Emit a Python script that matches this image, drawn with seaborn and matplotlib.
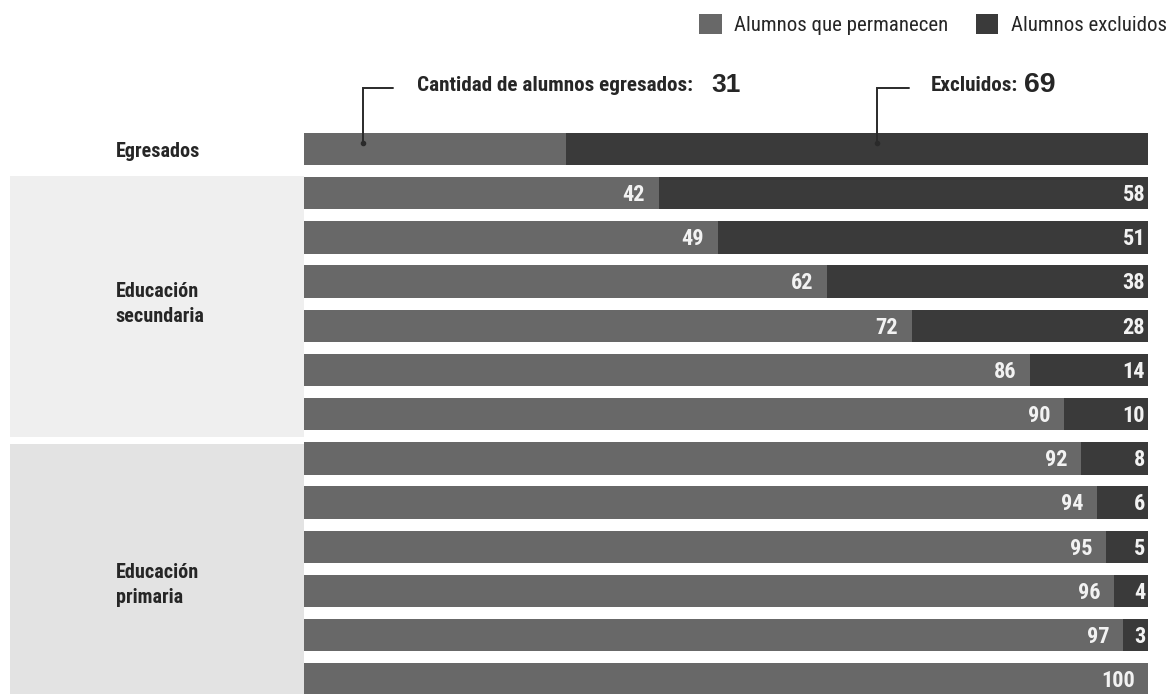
import matplotlib
matplotlib.use("Agg")
import matplotlib.pyplot as plt
from matplotlib.patches import Patch, Rectangle
from matplotlib import font_manager
import seaborn as sns
import pandas as pd

# ---------------- data ----------------
rows = ["Egresados", "S1", "S2", "S3", "S4", "S5", "S6",
        "P1", "P2", "P3", "P4", "P5", "P6"]
permanecen = [31, 42, 49, 62, 72, 86, 90, 92, 94, 95, 96, 97, 100]
excluidos = [69, 58, 51, 38, 28, 14, 10, 8, 6, 5, 4, 3, 0]
group_labels = ["Egresados", "Educación\nsecundaria", "Educación\nprimaria"]
legend_labels = ["Alumnos que permanecen", "Alumnos excluidos"]
egresados_text = "Cantidad de alumnos egresados:"
egresados_value = 31
excluidos_text = "Excluidos:"
excluidos_value = 69

# ---------------- style ----------------
sns.set_theme(style="white")

# pick a condensed face if one is installed
stretch_ok = {"condensed", "semi-condensed", "extra-condensed", "ultra-condensed"}
fam, stretch = None, "normal"
entries = font_manager.fontManager.ttflist
for name in ["Liberation Sans Narrow", "Roboto Condensed", "Open Sans Condensed",
             "Noto Sans Condensed", "DejaVu Sans Condensed"]:
    if any(f.name == name for f in entries):
        fam = name
        break
if fam is None:
    for name in ["Noto Sans", "Open Sans", "DejaVu Sans", "Roboto", "Inter"]:
        if any(f.name == name and str(f.stretch) in stretch_ok and f.weight in (700, "bold")
               for f in entries):
            fam, stretch = name, "condensed"
            break
if fam is None:
    fam = "Roboto" if any(f.name == "Roboto" for f in entries) else "DejaVu Sans"
plt.rcParams["font.family"] = [fam, "DejaVu Sans"]
plt.rcParams["font.stretch"] = stretch

C_PERM = "#686868"
C_EXCL = "#3a3a3a"
C_SEC = "#efefef"
C_PRI = "#e3e3e3"
C_TXT = "#262626"

df = pd.DataFrame({"row": rows, "perm": permanecen, "excl": excluidos})
df["total"] = df["perm"] + df["excl"]

fig = plt.figure(figsize=(11.72, 6.94), dpi=100)
ax = fig.add_axes([0, 0, 1, 1])

# measure font scale so that "Egresados" matches reference width (~87 px)
probe = fig.text(0, 0, group_labels[0], fontsize=14.5, fontweight="bold")
fig.canvas.draw()
w = probe.get_window_extent(fig.canvas.get_renderer()).width
probe.remove()
k = min(1.0, 87.0 / w) if w > 0 else 1.0
FS_LAB = 14.5 * k
FS_VAL = 16.0 * k
FS_ANN = 15.2 * k
FS_LEG = 15.0 * k

sns.barplot(data=df, x="total", y="row", orient="h", color=C_EXCL,
            width=0.73, linewidth=0, saturation=1, ax=ax, zorder=3)
sns.barplot(data=df, x="perm", y="row", orient="h", color=C_PERM,
            width=0.73, linewidth=0, saturation=1, ax=ax, zorder=4)

# pixel-calibrated view
ax.set_xlim(-36.02, 102.84)
ax.set_ylim(12.33, -3.371)
ax.axis("off")

# background bands for groups
ax.add_patch(Rectangle((-34.83, 0.61), 34.83, 6.52 - 0.61, color=C_SEC, zorder=1, lw=0))
ax.add_patch(Rectangle((-34.83, 6.67), 34.83, 6.0, color=C_PRI, zorder=1, lw=0))

# group labels
ax.text(-22.3, 0.05, group_labels[0], fontsize=FS_LAB, fontweight="bold",
        color=C_TXT, ha="left", va="center", zorder=5)
ax.text(-22.3, 3.5, group_labels[1], fontsize=FS_LAB, fontweight="bold",
        color=C_TXT, ha="left", va="center", zorder=5, linespacing=1.38)
ax.text(-22.3, 9.86, group_labels[2], fontsize=FS_LAB, fontweight="bold",
        color=C_TXT, ha="left", va="center", zorder=5, linespacing=1.38)

# value labels (skip first row)
for i in range(1, len(rows)):
    p = permanecen[i]
    e = excluidos[i]
    ax.text(p - 1.6, i + 0.04, f"{p}", color="#f2f2f2", fontsize=FS_VAL,
            fontweight="bold", ha="right", va="center", zorder=6)
    if e > 0:
        ax.text(p + e - 0.35, i + 0.04, f"{e}", color="#f2f2f2", fontsize=FS_VAL,
                fontweight="bold", ha="right", va="center", zorder=6)

# bracket annotations for Egresados row
y_top = -1.38
y_end = -0.13
ax.plot([10.5, 7.0, 7.0], [y_top, y_top, y_end], color="#2a2a2a", lw=1.4,
        zorder=7, solid_joinstyle="miter")
ax.plot([7.0], [y_end], "o", color="#2a2a2a", ms=3, zorder=7)
ax.plot([71.7, 67.9, 67.9], [y_top, y_top, y_end], color="#2a2a2a", lw=1.4,
        zorder=7, solid_joinstyle="miter")
ax.plot([67.9], [y_end], "o", color="#2a2a2a", ms=3, zorder=7)

t1 = ax.text(13.4, -1.44, egresados_text, fontsize=FS_ANN, fontweight="bold",
             color=C_TXT, ha="left", va="center", zorder=7)
ax.annotate(f"{egresados_value}", xy=(1, 0.5), xycoords=t1, xytext=(18, 0),
            textcoords="offset pixels", fontsize=19, fontweight="bold",
            color=C_TXT, ha="left", va="center", zorder=7,
            family=["Liberation Sans", "DejaVu Sans"])
t2 = ax.text(74.3, -1.44, excluidos_text, fontsize=FS_ANN, fontweight="bold",
             color=C_TXT, ha="left", va="center", zorder=7)
ax.annotate(f"{excluidos_value}", xy=(1, 0.5), xycoords=t2, xytext=(6, 0),
            textcoords="offset pixels", fontsize=20.5, fontweight="bold",
            color=C_TXT, ha="left", va="center", zorder=7,
            family=["Liberation Sans", "DejaVu Sans"])

# legend
handles = [Patch(facecolor=C_PERM, edgecolor="none"),
           Patch(facecolor=C_EXCL, edgecolor="none")]
leg = fig.legend(handles, legend_labels, loc="upper right",
                 bbox_to_anchor=(1167 / 1172, 1 - 14 / 694), ncol=2,
                 frameon=False, fontsize=FS_LEG, handlelength=1.1,
                 handleheight=1.1, handletextpad=0.6, columnspacing=1.3,
                 borderpad=0, borderaxespad=0, labelcolor=C_TXT)

fig.savefig("out.png", dpi=100, facecolor="white")
